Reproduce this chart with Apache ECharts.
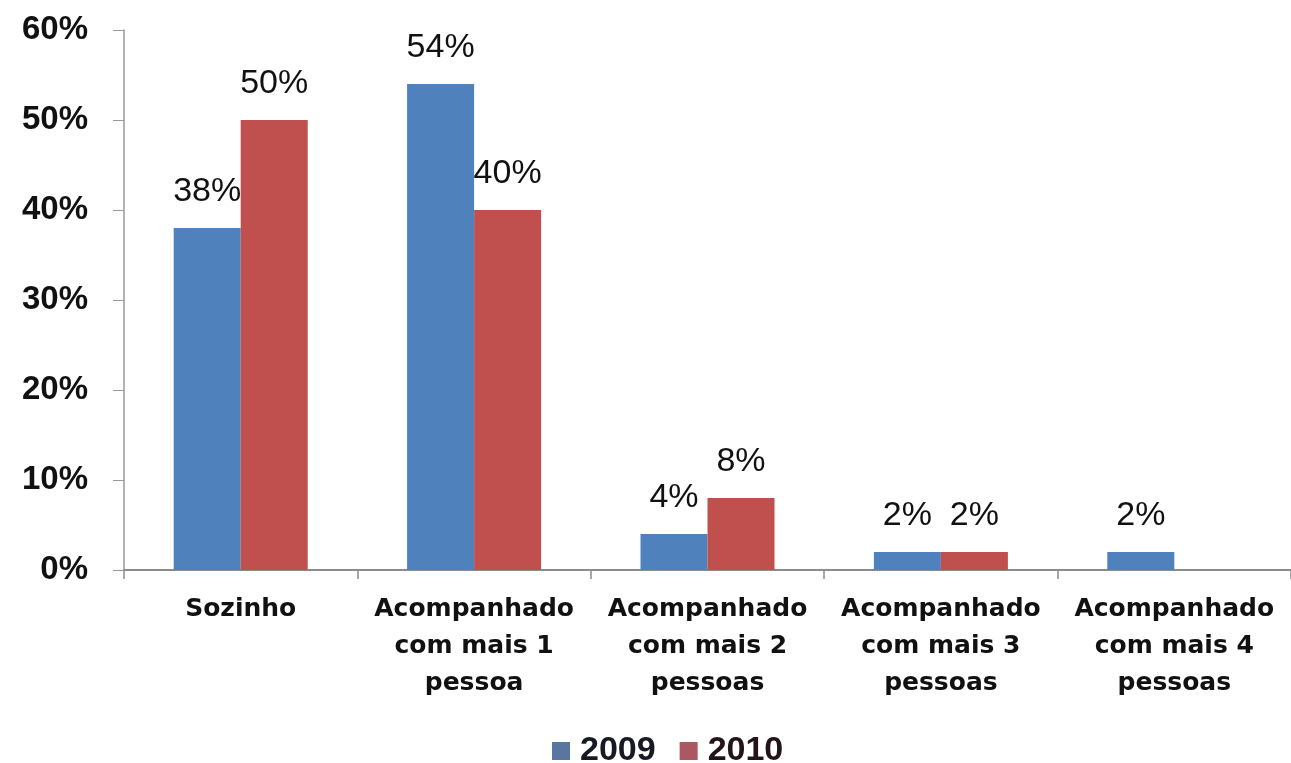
<!DOCTYPE html>
<html>
<head>
<meta charset="utf-8">
<script src="https://cdn.jsdelivr.net/npm/echarts@6/dist/echarts.min.js"></script>
<style>
  html, body { margin: 0; padding: 0; background: #fff; }
  #chart { width: 1291px; height: 763px; }
</style>
</head>
<body>
<div id="chart"></div>
<script>
const categories = [
  'Sozinho',
  'Acompanhado\ncom mais 1\npessoa',
  'Acompanhado\ncom mais 2\npessoas',
  'Acompanhado\ncom mais 3\npessoas',
  'Acompanhado\ncom mais 4\npessoas',
]
const values2009 = [38, 54, 4, 2, 2]
const values2010 = [50, 40, 8, 2, null]
const yTicks = [0, 10, 20, 30, 40, 50, 60]

const BLUE = '#4f81bd'
const RED = '#c0504d'

const chart = echarts.init(document.getElementById('chart'))

const label = {
  show: true,
  position: 'top',
  distance: 19,
  fontFamily: 'Liberation Sans',
  fontSize: 34,
  color: '#111',
  formatter: (p) => `${p.value}%`,
}

chart.setOption({
  animation: false,
  grid: { left: 124, top: 30, width: 1175, height: 540 },
  legend: {
    left: 547,
    top: 729,
    itemWidth: 18,
    itemHeight: 18,
    itemGap: 24,
    icon: 'rect',
    textStyle: {
      fontFamily: 'Liberation Sans',
      fontWeight: 'bold',
      fontSize: 34,
      color: '#161a24',
      padding: [0, 0, 0, 5],
    },
    data: [
      { name: '2009', itemStyle: { color: '#5a76a0' } },
      { name: '2010', itemStyle: { color: '#ab5860' }, textStyle: { color: '#24141a' } },
    ],
  },
  xAxis: {
    type: 'category',
    data: categories,
    axisLine: { lineStyle: { color: '#8c8c8c', width: 2 } },
    axisTick: { show: true, length: 9, lineStyle: { color: '#8c8c8c', width: 1.5 } },
    axisLabel: {
      interval: 0,
      margin: 21,
      fontFamily: 'DejaVu Sans',
      fontWeight: 'bold',
      fontSize: 25,
      lineHeight: 37,
      color: '#111',
    },
  },
  yAxis: {
    type: 'value',
    min: yTicks[0],
    max: yTicks[yTicks.length - 1],
    interval: 10,
    splitLine: { show: false },
    axisLine: { show: true, lineStyle: { color: '#999', width: 1.5 } },
    axisTick: { show: true, length: 11, lineStyle: { color: '#999' } },
    axisLabel: {
      margin: 36,
      fontFamily: 'Liberation Sans',
      fontWeight: 'bold',
      fontSize: 33,
      color: '#111',
      formatter: '{value}%',
    },
  },
  series: [
    {
      name: '2009',
      type: 'bar',
      data: values2009,
      barWidth: 67,
      barGap: '0%',
      itemStyle: { color: BLUE },
      label: label,
    },
    {
      name: '2010',
      type: 'bar',
      data: values2010,
      barWidth: 67,
      itemStyle: { color: RED },
      label: label,
    },
  ],
})
</script>
</body>
</html>
